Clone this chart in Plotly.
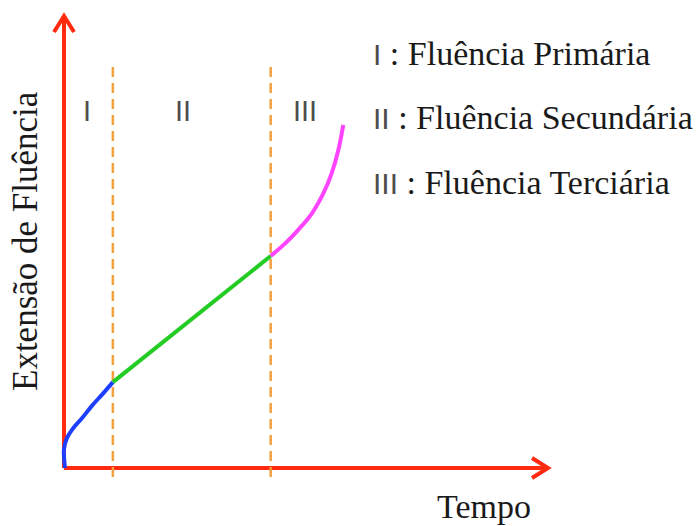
import plotly.graph_objects as go

W, H = 696, 526
# pixel position of the origin and pixels per data unit
X0_PX, Y0_PX = 64, 468
PX_X, PX_Y = 48.4, 45.2
XMAX, YMAX = 10.0, 10.0

# Creep curve, split into its three stages (time, creep strain)
primary_t = [0.02, 0.00, 0.00, 0.06, 0.19, 0.37, 0.58, 0.80, 1.01]
primary_e = [0.00, 0.25, 0.42, 0.66, 0.88, 1.10, 1.38, 1.64, 1.90]
secondary_t = [1.01, 4.27]
secondary_e = [1.90, 4.69]
tertiary_t = [4.27, 4.57, 4.84, 5.12, 5.36, 5.53, 5.67, 5.77]
tertiary_e = [4.69, 4.97, 5.27, 5.63, 6.08, 6.52, 7.04, 7.59]

# Stage boundaries and stage labels
stage_bounds = [1.01, 4.27]
stage_labels = ["I", "II", "III"]
stage_label_t = [0.48, 2.45, 4.97]
stage_names = ["Fluência Primária", "Fluência Secundária", "Fluência Terciária"]

x_title = "Tempo"
y_title = "Extensão de Fluência"

AXIS_RED = "#ff2a10"
DASH_ORANGE = "#f2a040"
NUM_GREY = "#4d4d4d"
TEXT = "#1a1a1a"
SERIF = "Liberation Serif"
SANS = "Liberation Sans"

# axis ranges so that the whole page is the plotting area
x_range = [-X0_PX / PX_X, (W - X0_PX) / PX_X]
y_range = [-(H - Y0_PX) / PX_Y, Y0_PX / PX_Y]


def dx(px):
    return (px - X0_PX) / PX_X


def dy(py):
    return (Y0_PX - py) / PX_Y


fig = go.Figure()

# Axes drawn as arrows with open chevron heads
ax_len, ax_half = 16, 10
axis_line = dict(color=AXIS_RED, width=4)
fig.add_trace(go.Scatter(x=[0, XMAX], y=[0, 0], mode="lines", line=axis_line))
fig.add_trace(go.Scatter(x=[0, 0], y=[0, YMAX], mode="lines", line=axis_line))
fig.add_trace(go.Scatter(
    x=[XMAX - ax_len / PX_X, XMAX, XMAX - ax_len / PX_X],
    y=[ax_half / PX_Y, 0, -ax_half / PX_Y],
    mode="lines", line=axis_line))
fig.add_trace(go.Scatter(
    x=[-ax_half / PX_X, 0, ax_half / PX_X],
    y=[YMAX - ax_len / PX_Y, YMAX, YMAX - ax_len / PX_Y],
    mode="lines", line=axis_line))

# Stage boundaries
for xb in stage_bounds:
    fig.add_trace(go.Scatter(x=[xb, xb], y=[dy(477), dy(67)], mode="lines",
                             line=dict(color=DASH_ORANGE, width=2.5, dash="10px,6px")))

# Creep curve
fig.add_trace(go.Scatter(x=primary_t, y=primary_e, mode="lines",
                         line=dict(color="#1f3fff", width=4, shape="spline", smoothing=1.2)))
fig.add_trace(go.Scatter(x=secondary_t, y=secondary_e, mode="lines",
                         line=dict(color="#22cc22", width=4)))
fig.add_trace(go.Scatter(x=tertiary_t, y=tertiary_e, mode="lines",
                         line=dict(color="#ff44ff", width=4, shape="spline", smoothing=1.0)))

annotations = []
# Stage numerals inside the plot
for lab, xt in zip(stage_labels, stage_label_t):
    annotations.append(dict(x=xt, y=dy(111), text=lab, showarrow=False,
                            font=dict(family=SANS, size=29, color=NUM_GREY)))

# Key of stages on the right
for i, (lab, name) in enumerate(zip(stage_labels, stage_names)):
    annotations.append(dict(
        x=dx(371), y=dy(53 + 64.5 * i), xanchor="left", yanchor="middle",
        showarrow=False,
        text=f'<span style="font-family:{SANS};color:{NUM_GREY};font-size:30px">{lab}</span> : {name}',
        font=dict(family=SERIF, size=34, color=TEXT)))

# Axis titles
annotations.append(dict(x=dx(484), y=dy(506), text=x_title, showarrow=False,
                        font=dict(family=SERIF, size=34, color=TEXT)))
annotations.append(dict(x=dx(25), y=dy(241), text=y_title, showarrow=False,
                        textangle=-90, font=dict(family=SERIF, size=35, color=TEXT)))

fig.update_traces(hoverinfo="skip")
fig.update_layout(
    width=W, height=H,
    margin=dict(l=0, r=0, t=0, b=0),
    paper_bgcolor="white", plot_bgcolor="white",
    showlegend=False,
    xaxis=dict(range=x_range, visible=False, fixedrange=True),
    yaxis=dict(range=y_range, visible=False, fixedrange=True),
    annotations=annotations,
)

fig.write_html("out.html")
